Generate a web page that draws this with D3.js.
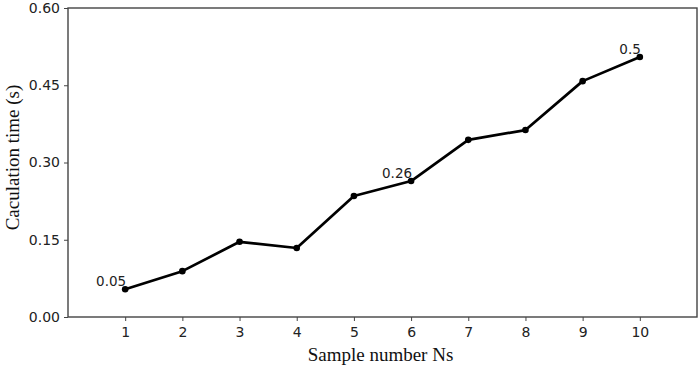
<!DOCTYPE html>
<html>
<head>
<meta charset="utf-8">
<script src="https://cdn.jsdelivr.net/npm/d3@7"></script>
<style>
  body { margin: 0; background: #fff; }
  .tick text { font-family: "DejaVu Sans", sans-serif; font-size: 14px; fill: #222; }
  .tick line, .domain { stroke: #444; }
  .t1 { font-family: "Liberation Serif", serif; font-size: 19px; fill: #111; }
  .t2 { font-family: "DejaVu Sans", sans-serif; font-size: 13.5px; fill: #222; }
</style>
</head>
<body>
<svg id="chart" width="700" height="371"></svg>
<script>
var samples = [1, 2, 3, 4, 5, 6, 7, 8, 9, 10];
var times = [0.054, 0.089, 0.146, 0.134, 0.235, 0.264, 0.344, 0.363, 0.458, 0.505];
var yTicks = [0, 0.15, 0.30, 0.45, 0.60];
var notes = [{i: 0, text: "0.05"}, {i: 5, text: "0.26"}, {i: 9, text: "0.5"}];

var svg = d3.select("#chart"),
    plotL = 68, plotR = 697, plotT = 8, plotB = 317;

var x = d3.scaleLinear().domain([0, 11]).range([plotL, plotR]);
var y = d3.scaleLinear().domain([0, 0.6]).range([plotB, plotT]);

// frame
svg.append("rect")
  .attr("x", plotL).attr("y", plotT)
  .attr("width", plotR - plotL).attr("height", plotB - plotT)
  .attr("fill", "none").attr("stroke", "#444").attr("stroke-width", 1.4);

svg.append("g")
  .attr("transform", "translate(0," + plotB + ")")
  .call(d3.axisBottom(x).tickValues(samples).tickFormat(d3.format("d")).tickSize(4).tickPadding(6))
  .call(function(g) { g.select(".domain").remove(); });

svg.append("g")
  .attr("transform", "translate(" + plotL + ",0)")
  .call(d3.axisLeft(y).tickValues(yTicks).tickFormat(d3.format(".2f")).tickSize(4).tickPadding(4))
  .call(function(g) { g.select(".domain").remove(); });

var line = d3.line()
  .x(function(d, i) { return x(samples[i]); })
  .y(function(d) { return y(d); });

svg.append("path")
  .datum(times)
  .attr("d", line)
  .attr("fill", "none")
  .attr("stroke", "#000")
  .attr("stroke-width", 2.7)
  .attr("stroke-linejoin", "round");

svg.append("g")
  .selectAll("circle")
  .data(times)
  .enter().append("circle")
  .attr("cx", function(d, i) { return x(samples[i]); })
  .attr("cy", function(d) { return y(d); })
  .attr("r", 3.3)
  .attr("fill", "#000");

svg.append("g")
  .selectAll("text")
  .data(notes)
  .enter().append("text")
  .attr("class", "t2")
  .attr("text-anchor", "end")
  .attr("x", function(d) { return x(samples[d.i]) + 1; })
  .attr("y", function(d) { return y(times[d.i]) - 3; })
  .text(function(d) { return d.text; });

svg.append("text")
  .attr("class", "t1")
  .attr("text-anchor", "middle")
  .attr("x", (plotL + plotR) / 2 - 2)
  .attr("y", 361)
  .text("Sample number Ns");

svg.append("text")
  .attr("class", "t1")
  .attr("text-anchor", "middle")
  .attr("transform", "translate(19," + ((plotT + plotB) / 2 - 5) + ") rotate(-90)")
  .text("Caculation time (s)");
</script>
</body>
</html>
